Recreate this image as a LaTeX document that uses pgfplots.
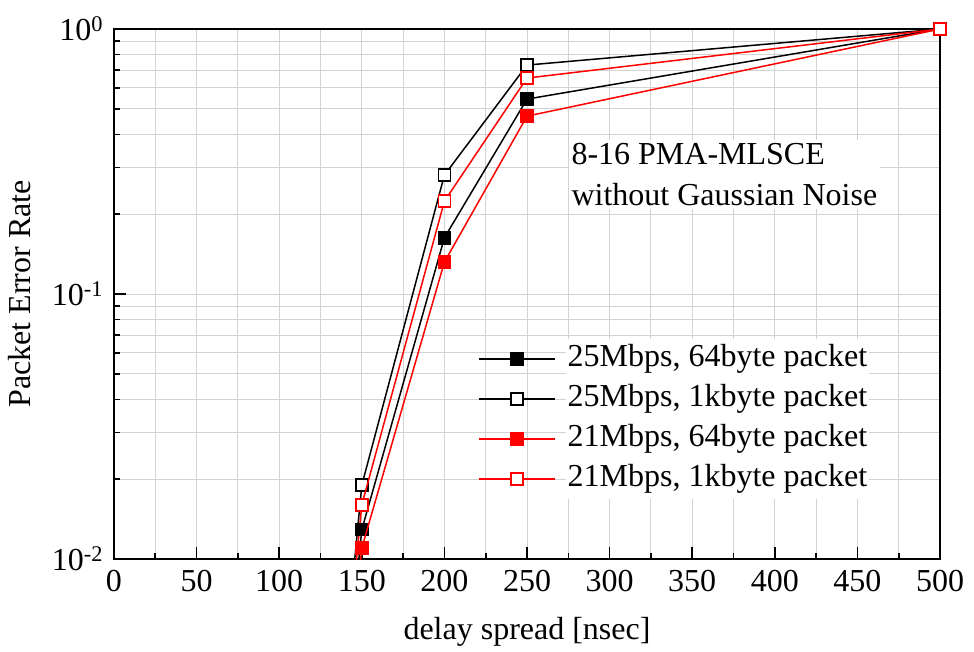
\documentclass[border=0pt]{standalone}
\usepackage{pgfplots}
\pgfplotsset{compat=1.18}
\usepackage{fontspec}
\setmainfont{Liberation Serif}
\definecolor{gridgray}{RGB}{210,210,210}
\definecolor{pred}{RGB}{255,0,0}
\begin{document}
\fontsize{32}{37}\selectfont
\begin{tikzpicture}
\useasboundingbox (-114pt,-92pt) rectangle (860pt,559pt);
\begin{axis}[
  at={(0pt,0pt)}, anchor=south west,
  width=826pt, height=530pt, scale only axis,
  xmin=0, xmax=500, ymode=log, ymin=0.01, ymax=1,
  xtick={0,50,...,500}, minor x tick num=1,
  ytick={0.01,0.1,1},
  yticklabels={10\textsuperscript{-2},10\textsuperscript{-1},10\textsuperscript{0}},
  tick pos=left, tick align=inside,
  major tick length=12pt, minor tick length=6pt,
  xmajorgrids, xminorgrids, ymajorgrids, yminorgrids,
  grid style={gridgray, line width=1pt},
  minor grid style={gridgray, line width=1pt},
  axis line style={line width=1.6pt},
  every tick/.style={black, line width=1.6pt},
  /pgf/number format/assume math mode=true,
  tick label style={font=\fontsize{32}{37}\selectfont},
  label style={font=\fontsize{32}{37}\selectfont},
  xlabel={delay spread [nsec]}, ylabel={Packet Error Rate},
  xlabel style={at={(axis description cs:0.5,-0.138)}, anchor=center},
  ylabel style={at={(axis description cs:-0.1145,0.5)}, anchor=center},
  clip mode=individual,
  legend cell align=left,
  legend image code/.code={\draw[mark repeat=2,mark phase=2,#1] plot coordinates {(0pt,0pt) (38pt,0pt) (76pt,0pt)}; \path (86pt,0pt);},
  legend style={at={(axis description cs:0.437,0.419)}, anchor=north west,
    draw=none, fill=none, row sep=0pt,
    nodes={inner ysep=5.5pt, text height=22pt, text depth=7pt},
    font=\fontsize{32}{37}\selectfont},
]
% clipped lead-in segments from below the axis
\addplot[black, line width=1.5pt, forget plot] coordinates {(100,1e-5) (150,0.0129)};
\addplot[black, line width=1.5pt, forget plot] coordinates {(100,1e-5) (150,0.019)};
\addplot[pred, line width=1.5pt, forget plot] coordinates {(100,1e-5) (150,0.011)};
\addplot[pred, line width=1.5pt, forget plot] coordinates {(100,1e-5) (150,0.016)};

\addplot[black, line width=1.5pt, mark=square*, mark size=6pt, mark options={solid, fill=black}]
  coordinates {(150,0.0129) (200,0.163) (250,0.544) (500,1)};
\addlegendentry[fill=white]{25Mbps, 64byte packet}
\addplot[black, line width=1.5pt, mark=square*, mark size=6pt, mark options={solid, fill=white}]
  coordinates {(150,0.019) (200,0.281) (250,0.731) (500,1)};
\addlegendentry[fill=white]{25Mbps, 1kbyte packet}
\addplot[pred, line width=1.5pt, mark=square*, mark size=6pt, mark options={solid, fill=pred}]
  coordinates {(150,0.011) (200,0.132) (250,0.469) (500,1)};
\addlegendentry[fill=white]{21Mbps, 64byte packet}
\addplot[pred, line width=1.5pt, mark=square*, mark size=6pt, mark options={solid, fill=white}]
  coordinates {(150,0.016) (200,0.224) (250,0.653) (500,1)};
\addlegendentry[fill=white]{21Mbps, 1kbyte packet}

\node[fill=white, align=left, anchor=north west, inner sep=3pt,
  font=\fontsize{32}{41}\selectfont] at (axis cs:275,0.381)
  {8-16 PMA-MLSCE\\without Gaussian Noise};
\end{axis}
\end{tikzpicture}
\end{document}
